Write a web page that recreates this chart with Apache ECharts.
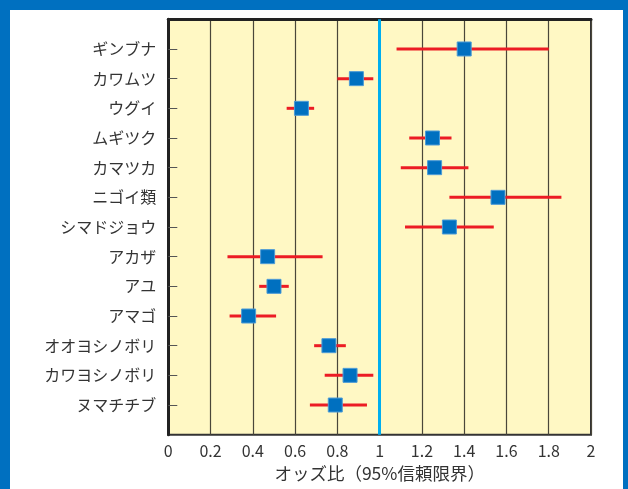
<!DOCTYPE html>
<html>
<head>
<meta charset="utf-8">
<script src="https://cdn.jsdelivr.net/npm/echarts@6/dist/echarts.min.js"></script>
<style>
  html, body { margin: 0; padding: 0; background: #ffffff; }
  #chart { width: 628px; height: 489px; }
</style>
</head>
<body>
<div id="chart"></div>
<script>
// Species (top to bottom) with odds ratios and 95% confidence limits
const species = ['ギンブナ', 'カワムツ', 'ウグイ', 'ムギツク', 'カマツカ', 'ニゴイ類', 'シマドジョウ',
                 'アカザ', 'アユ', 'アマゴ', 'オオヨシノボリ', 'カワヨシノボリ', 'ヌマチチブ'];
const oddsRatio = [1.40, 0.89, 0.63, 1.25, 1.26, 1.56, 1.33, 0.47, 0.50, 0.38, 0.76, 0.86, 0.79];
const lowerCI   = [1.08, 0.80, 0.56, 1.14, 1.10, 1.33, 1.12, 0.28, 0.43, 0.29, 0.69, 0.74, 0.67];
const upperCI   = [1.80, 0.97, 0.69, 1.34, 1.42, 1.86, 1.54, 0.73, 0.57, 0.51, 0.84, 0.97, 0.94];
const xTicks = [0, 0.2, 0.4, 0.6, 0.8, 1, 1.2, 1.4, 1.6, 1.8, 2];
const referenceOR = 1;
const axisTitle = 'オッズ比（95%信頼限界）';

const rows = species.map((_, i) => i + 1);
const points = species.map((_, i) => [oddsRatio[i], i + 1]);
const intervals = species.map((_, i) => [lowerCI[i], upperCI[i], i + 1]);

const font = '"Noto Sans CJK JP", "Noto Sans", sans-serif';
const frameBlue = '#0070c0';

const chart = echarts.init(document.getElementById('chart'), null, { renderer: 'canvas' });

chart.setOption({
  backgroundColor: '#ffffff',
  animation: false,
  graphic: [
    { type: 'rect', left: 0, top: 0, shape: { width: 628, height: 10 }, style: { fill: frameBlue }, silent: true },
    { type: 'rect', left: 0, top: 0, shape: { width: 10, height: 489 }, style: { fill: frameBlue }, silent: true },
    { type: 'rect', right: 0, top: 0, shape: { width: 5, height: 489 }, style: { fill: frameBlue }, silent: true }
  ],
  grid: {
    left: 168.3, right: 37, top: 19.3, bottom: 54.3,
    show: true,
    backgroundColor: '#fff8c4',
    borderColor: '#333333',
    borderWidth: 2
  },
  xAxis: {
    type: 'value',
    min: xTicks[0],
    max: xTicks[xTicks.length - 1],
    interval: 0.2,
    name: axisTitle,
    nameLocation: 'middle',
    nameGap: 30,
    nameTextStyle: { fontFamily: font, fontSize: 17.5, color: '#333333' },
    axisLine: { show: true, lineStyle: { color: '#222222', width: 3 } },
    axisTick: { show: false },
    axisLabel: {
      margin: 8,
      fontFamily: font,
      fontSize: 16,
      color: '#333333',
      formatter: v => String(Math.round(v * 10) / 10)
    },
    splitLine: { show: true, lineStyle: { color: '#4a473a', width: 1.2 } }
  },
  yAxis: {
    type: 'value',
    min: 0,
    max: species.length + 1,
    inverse: true,
    axisLine: { show: true, onZero: false, lineStyle: { color: '#222222', width: 3 } },
    axisTick: {
      show: true,
      inside: true,
      length: 9,
      customValues: rows,
      lineStyle: { color: '#555555', width: 1 }
    },
    axisLabel: {
      margin: 12,
      fontFamily: font,
      fontSize: 16,
      color: '#333333',
      customValues: rows,
      formatter: v => species[Math.round(v) - 1] || ''
    },
    splitLine: { show: false }
  },
  series: [
    {
      name: '95%信頼限界',
      type: 'custom',
      data: intervals,
      encode: { x: [0, 1], y: 2 },
      z: 2,
      renderItem: (params, api) => {
        const a = api.coord([api.value(0), api.value(2)]);
        const b = api.coord([api.value(1), api.value(2)]);
        return {
          type: 'line',
          shape: { x1: a[0], y1: a[1], x2: b[0], y2: b[1] },
          style: { stroke: '#ec1c24', lineWidth: 3 }
        };
      },
      markLine: {
        silent: true,
        symbol: 'none',
        label: { show: false },
        lineStyle: { color: '#00aeef', width: 3, type: 'solid' },
        data: [{ xAxis: referenceOR }]
      }
    },
    {
      name: 'オッズ比',
      type: 'scatter',
      data: points,
      symbol: 'rect',
      symbolSize: 14,
      z: 3,
      itemStyle: { color: '#0070c0', borderColor: '#4d9bd6', borderWidth: 1, opacity: 1 }
    }
  ]
});
</script>
</body>
</html>
